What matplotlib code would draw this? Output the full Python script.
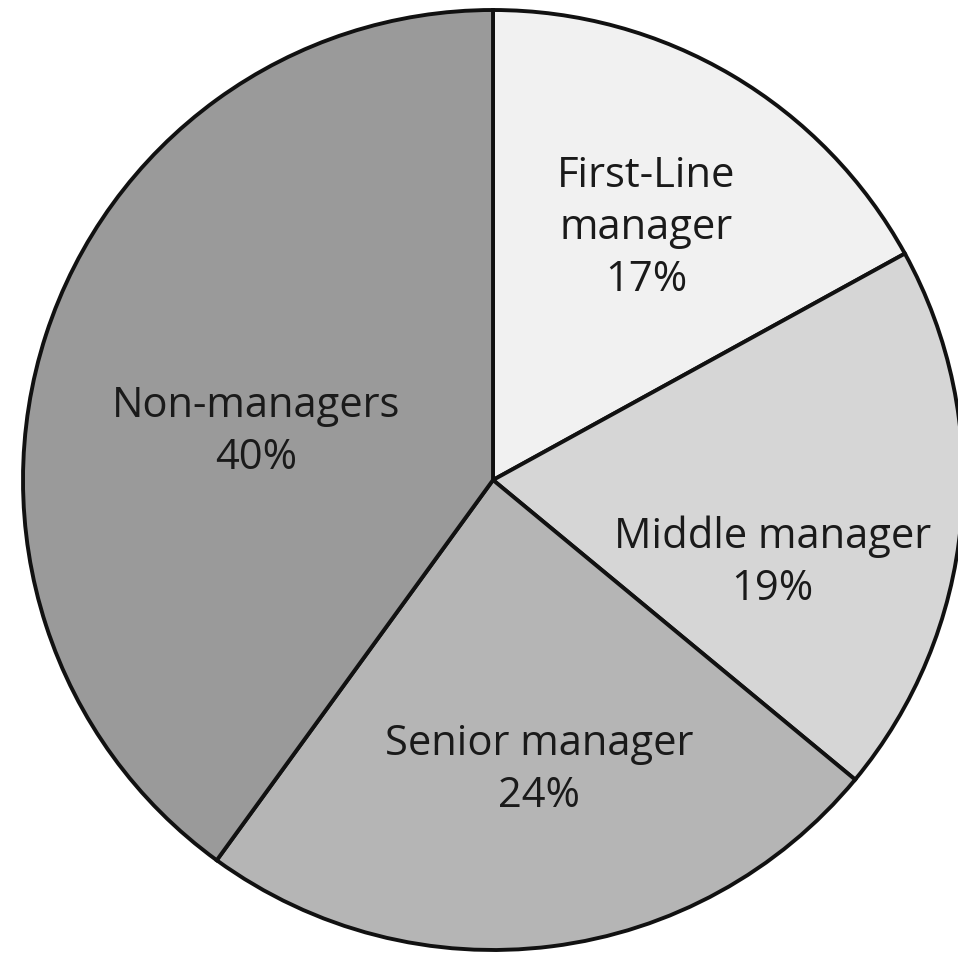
import matplotlib
matplotlib.use("Agg")
import matplotlib.pyplot as plt
import numpy as np

categories = ["First-Line\nmanager", "Middle manager", "Senior manager", "Non-managers"]
shares = [17, 19, 24, 40]
colours = ["#f1f1f1", "#d6d6d6", "#b5b5b5", "#9a9a9a"]

# label centres as fractions of the radius (relative to pie centre)
label_pos = [(0.326, 0.536), (0.594, -0.176), (0.098, -0.617), (-0.504, 0.102)]

W, H = 958, 956
fig = plt.figure(figsize=(W / 100, H / 100), dpi=100)
ax = fig.add_axes([0, 0, 1, 1])

cx, cy, r = 493, H - 480, 470
ax.pie(shares, colors=colours, startangle=90, counterclock=False,
       center=(cx, cy), radius=r, frame=True,
       wedgeprops=dict(edgecolor="#111111", linewidth=2.8))
ax.set_xlim(0, W)
ax.set_ylim(0, H)
ax.set_aspect("equal")
ax.axis("off")

for name, val, (fx, fy) in zip(categories, shares, label_pos):
    ax.text(cx + fx * r, cy + fy * r, f"{name}\n{val}%", ha="center", va="center",
            fontsize=30, family="Open Sans", color="#1a1a1a", linespacing=1.3)

fig.savefig("out.png", dpi=100, facecolor="white")
